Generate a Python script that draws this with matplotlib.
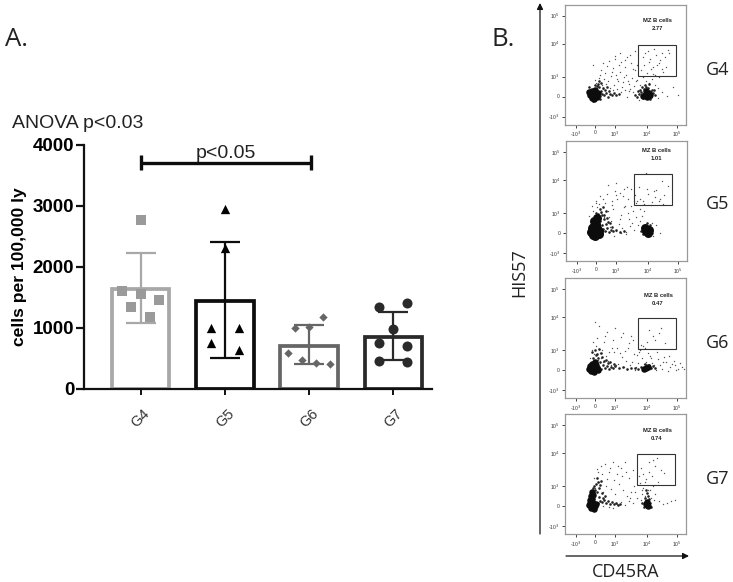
import matplotlib
matplotlib.use("Agg")
import matplotlib.pyplot as plt
from matplotlib.patches import Rectangle

W, H = 733, 582

groups = ["G4", "G5", "G6", "G7"]
means = [1637, 1430, 704, 846]
err_low = [1080, 497, 398, 470]
err_high = [2215, 2406, 1042, 1261]

g4_offset = [0, -0.226, 0, 0.22, -0.115, 0.11]
g4_values = [2761, 1600, 1550, 1450, 1342, 1180]
g5_offset = [0, 0, -0.17, 0.17, -0.17, 0.17]
g5_values = [2950, 2300, 988, 988, 753, 633]
g6_offset = [0.165, -0.165, 0, -0.25, -0.085, 0.085, 0.25]
g6_values = [1168, 988, 1004, 578, 470, 425, 404]
g7_offset = [-0.166, 0.166, 0, -0.166, 0.166, -0.166, 0.166]
g7_values = [1343, 1408, 972, 743, 704, 459, 436]

colors = ["#a8a8a8", "#0d0d0d", "#666666", "#2a2a2a"]
marker_colors = ["#9a9a9a", "#000000", "#666666", "#2a2a2a"]
markers = ["s", "^", "D", "o"]
marker_sizes = [45, 45, 18, 52]

# flow panels, values in display channels of the plot area
flow_names = ["G4", "G5", "G6", "G7"]
flow_freq = ["2.77", "1.01", "0.47", "0.74"]
flow_title = ["MZ B cells", "MZ B cells", "MZ B cells", "MZ B cells"]

g4_core_x = [25, 27, 29, 31, 27, 30, 33, 26, 29, 24, 32, 28, 80, 82, 84, 81, 78, 85]
g4_core_y = [30, 27, 31, 29, 34, 35, 32, 31, 26, 33, 28, 30, 30, 28, 32, 34, 29, 30]
g4_mid_x = [35, 37, 39, 41, 43, 45, 47, 49, 36, 40, 44, 34, 38, 42, 33, 36, 30, 35, 51, 54, 70, 72, 74, 76, 78, 86, 88, 90, 75, 79, 83, 87,
            73, 77, 81, 85, 89, 80, 84, 28, 32, 24, 34]
g4_mid_y = [29, 31, 30, 32, 28, 31, 30, 32, 34, 35, 34, 38, 37, 38, 41, 42, 40, 26, 30, 31, 30, 28, 31, 33, 27, 28, 32, 30, 35, 36, 37, 35,
            34, 38, 38, 26, 35, 40, 41, 24, 39, 38, 44]
g4_sparse_x = [31, 34, 37, 40, 43, 46, 49, 52, 55, 58, 61, 64, 67, 70, 33, 36, 39, 42, 45, 48, 51, 54, 57, 60, 63, 66, 69, 72,
               35, 38, 41, 44, 47, 50, 53, 56, 59, 62, 65, 68, 71, 48, 52, 56, 60, 64, 68, 72, 75, 78, 81, 84, 87, 90, 93,
               76, 79, 82, 85, 88, 91, 94, 97, 100, 103, 78, 83, 86, 89, 92, 95, 98, 101, 104, 90, 94, 97, 80, 84, 88,
               50, 55, 60, 65, 70, 93, 97, 102, 108, 113, 28, 62, 74, 30, 33, 38]
g4_sparse_y = [42, 47, 40, 52, 44, 49, 40, 46, 53, 43, 50, 41, 47, 55, 38, 55, 46, 59, 37, 57, 50, 60, 38, 58, 44, 62, 39, 60,
               50, 62, 41, 64, 53, 66, 44, 63, 48, 68, 36, 56, 44, 35, 36, 33, 35, 34, 33, 45, 40, 48, 44, 42, 46, 40, 37,
               55, 60, 52, 66, 58, 70, 62, 72, 68, 75, 68, 74, 56, 76, 60, 65, 53, 58, 72, 50, 48, 56, 72, 63, 51,
               69, 72, 65, 70, 74, 27, 33, 29, 38, 30, 60, 28, 25, 45, 40, 36]

g5_core_x = [25, 27, 29, 31, 33, 27, 29, 31, 26, 33, 30, 28, 31, 80, 82, 79, 83]
g5_core_y = [29, 26, 31, 28, 30, 34, 25, 33, 33, 27, 37, 40, 43, 30, 28, 33, 31]
g5_mid_x = [35, 37, 39, 41, 43, 45, 47, 36, 40, 34, 38, 42, 33, 36, 32, 35, 38, 30, 34, 37, 26, 29, 75, 77, 85, 86, 78, 84, 81, 50, 54, 58,
            41, 44, 40, 46]
g5_mid_y = [28, 32, 30, 33, 29, 31, 30, 36, 37, 40, 42, 39, 44, 46, 47, 49, 46, 48, 52, 54, 41, 45, 30, 27, 32, 28, 35, 36, 38, 31, 29, 30,
            43, 38, 50, 34]
g5_sparse_x = [23, 27, 31, 35, 39, 43, 47, 51, 55, 59, 63, 67, 71, 26, 30, 34, 38, 42, 46, 50, 54, 58, 62, 66, 70, 74,
               33, 37, 41, 45, 49, 53, 57, 61, 65, 69, 42, 46, 50, 54, 58, 62, 44, 50, 56, 60, 64, 68, 72, 76, 86, 90, 94, 74,
               70, 74, 78, 82, 86, 90, 94, 98, 102, 73, 77, 81, 85, 89, 93, 97, 80, 88, 96, 65, 68, 36, 40, 30, 48, 55, 60, 87, 78]
g5_sparse_y = [45, 50, 54, 48, 58, 44, 52, 62, 46, 55, 42, 50, 60, 55, 60, 65, 44, 50, 56, 66, 42, 72, 48, 38, 44, 52,
               57, 62, 67, 40, 70, 37, 65, 74, 55, 66, 76, 60, 78, 68, 54, 62, 34, 30, 33, 29, 35, 31, 36, 45, 38, 36, 28, 40,
               58, 62, 57, 67, 59, 71, 62, 66, 75, 74, 60, 72, 56, 64, 60, 57, 88, 70, 80, 72, 60, 28, 30, 58, 25, 28, 27, 25, 50]

g6_core_x = [24, 26, 28, 30, 32, 27, 29, 31, 25, 33, 30, 81, 83, 79]
g6_core_y = [29, 27, 31, 28, 30, 34, 26, 33, 32, 28, 36, 30, 31, 29]
g6_mid_x = [34, 36, 38, 40, 42, 44, 46, 48, 35, 39, 43, 33, 37, 41, 32, 36, 28, 31, 70, 73, 76, 78, 86, 88, 90, 84, 80, 50, 54, 58, 62, 66,
            30, 34, 27, 45, 49]
g6_mid_y = [31, 29, 33, 30, 32, 29, 31, 30, 36, 37, 35, 40, 41, 38, 44, 45, 40, 43, 30, 29, 31, 28, 30, 32, 30, 33, 34, 32, 30, 31, 29, 30,
            48, 49, 46, 36, 34]
g6_sparse_x = [25, 29, 33, 37, 41, 45, 49, 53, 57, 61, 65, 69, 73, 77, 81, 85, 89, 93, 97, 101, 105, 109, 113, 117,
               27, 31, 35, 39, 43, 47, 51, 55, 59, 63, 67, 71, 75, 79, 83, 87, 91, 95, 99, 103, 107, 111, 115, 119,
               28, 32, 36, 40, 44, 48, 52, 56, 60, 64, 68, 72, 76, 80, 86, 92, 98, 104, 110,
               34, 42, 50, 58, 66, 74, 82, 88, 94, 100, 78, 84, 90, 96, 38, 30, 46, 62, 70]
g6_sparse_y = [40, 44, 38, 48, 42, 36, 46, 34, 41, 37, 33, 44, 35, 40, 36, 42, 33, 39, 29, 36, 31, 37, 29, 31,
               48, 52, 45, 56, 37, 50, 33, 45, 31, 50, 36, 31, 48, 34, 45, 35, 28, 33, 41, 27, 34, 28, 35, 29,
               56, 60, 40, 62, 46, 58, 50, 61, 47, 55, 58, 43, 53, 50, 40, 46, 36, 42, 33,
               72, 66, 70, 65, 62, 46, 56, 62, 65, 55, 52, 68, 58, 70, 36, 76, 33, 29, 28]

g7_core_x = [24, 26, 28, 30, 25, 27, 29, 26, 28, 25, 31, 27, 81, 83, 82]
g7_core_y = [29, 26, 31, 28, 34, 35, 25, 38, 39, 31, 30, 42, 30, 28, 32]
g7_mid_x = [33, 35, 37, 39, 41, 43, 45, 47, 49, 51, 53, 34, 38, 30, 32, 34, 29, 31, 33, 35, 28, 77, 79, 85, 86, 80, 83, 82, 84, 81,
            37, 40, 36, 55, 32]
g7_mid_y = [31, 33, 32, 34, 31, 33, 30, 32, 30, 31, 29, 37, 36, 44, 42, 46, 48, 50, 52, 49, 46, 31, 27, 31, 27, 36, 38, 41, 35, 44,
            41, 38, 53, 30, 56]
g7_sparse_x = [30, 34, 38, 42, 46, 50, 54, 58, 62, 66, 29, 33, 37, 41, 45, 49, 53, 57, 61, 65, 69,
               32, 36, 40, 44, 48, 52, 56, 60, 64, 68, 52, 56, 60, 64, 68, 72, 76, 77, 80, 86, 90, 94, 98, 102, 106, 110,
               75, 78, 81, 84, 87, 90, 93, 96, 99, 76, 80, 84, 88, 92, 78, 83, 88, 74, 77, 85, 89, 38, 44, 48, 70]
g7_sparse_y = [46, 52, 42, 55, 45, 40, 50, 44, 38, 42, 56, 62, 60, 48, 66, 54, 68, 58, 62, 36, 48,
               65, 68, 70, 62, 72, 60, 66, 72, 56, 64, 30, 32, 29, 33, 31, 36, 34, 44, 38, 36, 40, 33, 30, 31, 33, 34,
               51, 60, 55, 72, 58, 68, 52, 64, 61, 66, 52, 62, 74, 76, 46, 44, 48, 58, 40, 44, 34, 28, 27, 26, 42]

flow_core_x = [g4_core_x, g5_core_x, g6_core_x, g7_core_x]
flow_core_y = [g4_core_y, g5_core_y, g6_core_y, g7_core_y]
flow_mid_x = [g4_mid_x, g5_mid_x, g6_mid_x, g7_mid_x]
flow_mid_y = [g4_mid_y, g5_mid_y, g6_mid_y, g7_mid_y]
flow_sparse_x = [g4_sparse_x, g5_sparse_x, g6_sparse_x, g7_sparse_x]
flow_sparse_y = [g4_sparse_y, g5_sparse_y, g6_sparse_y, g7_sparse_y]
flow_x_ticks = [11, 30, 50, 82, 112]
flow_x_labels = ["-10$^3$", "0", "10$^3$", "10$^4$", "10$^5$"]
flow_y_ticks = [8, 28, 48, 81, 109]
flow_y_labels = ["-10$^3$", "0", "10$^3$", "10$^4$", "10$^5$"]


def px_axes(fig, left, top, right, bottom):
    return fig.add_axes([left / W, 1 - bottom / H, (right - left) / W, (bottom - top) / H])


def ftext(fig, x, y, s, **kw):
    fig.text(x / W, 1 - y / H, s, ha=kw.pop("ha", "center"), va=kw.pop("va", "center"), **kw)


def main():
    plt.rcParams["font.family"] = ["Liberation Sans", "DejaVu Sans"]
    fig = plt.figure(figsize=(W / 100, H / 100), dpi=100)

    ax = px_axes(fig, 84, 144.5, 432, 388.7)
    ax.set_xlim((84 - 140.7) / 84.2, (432 - 140.7) / 84.2)
    ax.set_ylim(0, 4000)
    for s in ["top", "right"]:
        ax.spines[s].set_visible(False)
    for s in ["left", "bottom"]:
        ax.spines[s].set_linewidth(1.6)
        ax.spines[s].set_color("#111111")

    pos = list(range(len(groups)))
    all_offset = [g4_offset, g5_offset, g6_offset, g7_offset]
    all_values = [g4_values, g5_values, g6_values, g7_values]
    for i in pos:
        ax.bar(i, means[i], width=0.68, facecolor="white", edgecolor=colors[i], linewidth=2.7, zorder=2)
        ax.errorbar(i, means[i], yerr=[[means[i] - err_low[i]], [err_high[i] - means[i]]],
                    color=colors[i], elinewidth=1.6, capsize=10.5, capthick=1.6, zorder=3)
        ax.scatter([i + d for d in all_offset[i]], all_values[i], marker=markers[i], s=marker_sizes[i],
                   color=marker_colors[i], linewidths=0, zorder=4)

    ax.set_xticks(pos)
    ax.set_xticklabels(groups, rotation=45, fontsize=10.5, color="#333333")
    ax.tick_params(axis="x", length=4, width=1.4, pad=9, color="#111111")
    ax.set_yticks([0, 1000, 2000, 3000, 4000])
    ax.tick_params(axis="y", length=6, width=1.6, pad=1, labelsize=13.5, color="#111111")
    for t in ax.get_yticklabels():
        t.set_fontweight("bold")
    ax.set_ylabel("cells per 100,000 ly", fontsize=12.6, fontweight="bold", labelpad=4)

    ax.plot([0, 2.02], [3700, 3700], color="#0d0d0d", lw=2.4, solid_capstyle="butt", zorder=5)
    ax.plot([0, 0], [3590, 3830], color="#0d0d0d", lw=2.4, solid_capstyle="butt", zorder=5)
    ax.plot([2.02, 2.02], [3590, 3830], color="#0d0d0d", lw=2.4, solid_capstyle="butt", zorder=5)
    ax.text(1.01, 3710, "p<0.05", ha="center", va="bottom", fontsize=14, color="#222222")

    ftext(fig, 78, 124, "ANOVA p<0.03", fontsize=14, color="#222222")
    ftext(fig, 5, 39, "A.", ha="left", fontsize=18.5, family="Open Sans", color="#222222")
    ftext(fig, 491, 40, "B.", ha="left", fontsize=18.5, family="Open Sans", color="#222222")

    panels = [(565, 4.5), (566, 141), (565, 278), (565, 414)]
    gates = [(73, 49), (68, 56), (73, 49), (72, 49)]
    title_pos = [(92, 104), (90, 110), (93, 103), (92, 103)]
    core_sizes = [30, 42, 30, 30]
    label_y = [70, 204, 343, 479]
    for k, (left, top) in enumerate(panels):
        a = px_axes(fig, left, top, left + 121, top + 120)
        a.set_xlim(0, 121)
        a.set_ylim(0, 120)
        a.scatter(flow_sparse_x[k], flow_sparse_y[k], s=1.0, color="#555555", linewidths=0, zorder=2)
        a.scatter(flow_mid_x[k], flow_mid_y[k], s=3.5, color="#222222", linewidths=0, zorder=2)
        a.scatter(flow_core_x[k], flow_core_y[k], s=core_sizes[k] if k == 1 else core_sizes[k] - 8,
                  color="#0c0c0c", linewidths=0, zorder=3)
        a.add_patch(Rectangle(gates[k], 38, 31, fill=False, edgecolor="#333333", lw=0.8, zorder=4))
        tx, ty = title_pos[k]
        a.text(tx, ty, flow_title[k], ha="center", va="center", fontsize=4.2, fontweight="bold", color="#222222")
        a.text(tx, ty - 8, flow_freq[k], ha="center", va="center", fontsize=4.2, fontweight="bold", color="#222222")
        for s in a.spines.values():
            s.set_color("#999999")
            s.set_linewidth(0.9)
        a.set_xticks(flow_x_ticks)
        a.set_xticklabels(flow_x_labels, fontsize=3.6, color="#333333")
        a.set_yticks(flow_y_ticks)
        a.set_yticklabels(flow_y_labels, fontsize=3.6, color="#333333")
        a.tick_params(length=2, width=0.6, pad=2, color="#222222")
        ftext(fig, 718, label_y[k], flow_names[k], fontsize=13, family="Open Sans", color="#222222")

    over = fig.add_axes([0, 0, 1, 1], facecolor="none")
    over.set_xlim(0, W)
    over.set_ylim(H, 0)
    over.axis("off")
    arrow = dict(arrowstyle="-|>", color="#111111", lw=0.9, mutation_scale=9, shrinkA=0, shrinkB=0)
    over.annotate("", xy=(540, 3), xytext=(540, 534), arrowprops=arrow)
    over.annotate("", xy=(689, 556), xytext=(566, 556), arrowprops=arrow)
    ftext(fig, 519.5, 273, "HIS57", rotation=90, fontsize=13, family="Open Sans", color="#222222")
    ftext(fig, 626, 572, "CD45RA", fontsize=13, family="Open Sans", color="#222222")

    fig.savefig("out.png", dpi=100)


if __name__ == "__main__":
    main()
